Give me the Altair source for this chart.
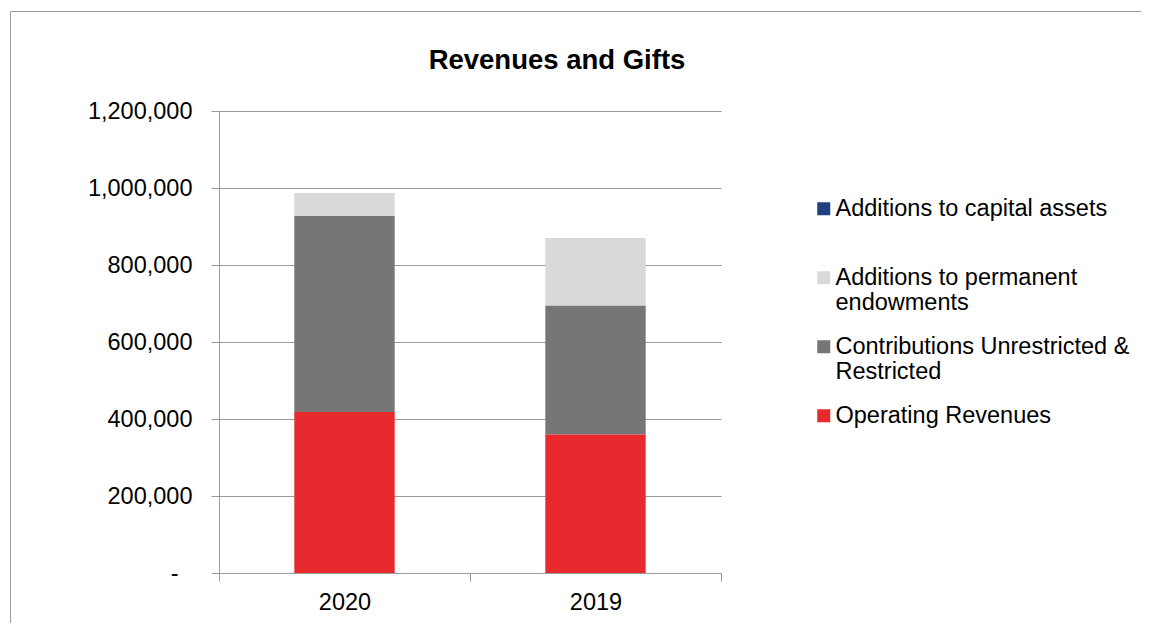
import altair as alt
import pandas as pd

years = ["2020", "2019"]
series = [
    "Additions to capital assets",
    "Additions to permanent endowments",
    "Contributions Unrestricted & Restricted",
    "Operating Revenues",
]
colors = ["#1F3F7F", "#D9D9D9", "#767676", "#E8292E"]
capital = [0, 0]
endowments = [60000, 176000]
contributions = [509000, 334000]
operating = [418000, 360000]
y_ticks = [0, 200000, 400000, 600000, 800000, 1000000, 1200000]

values_by_series = {
    series[0]: capital,
    series[1]: endowments,
    series[2]: contributions,
    series[3]: operating,
}
stack_rank = {series[3]: 0, series[2]: 1, series[1]: 2, series[0]: 3}

rows = []
for s, vals in values_by_series.items():
    for y, v in zip(years, vals):
        rows.append({"Year": y, "Series": s, "Value": v, "rank": stack_rank[s]})
df = pd.DataFrame(rows)

FONT = "Liberation Sans"

legend_expr = (
    "datum.label == 'Additions to permanent endowments' ? ['Additions to permanent', 'endowments'] : "
    "datum.label == 'Contributions Unrestricted & Restricted' ? ['Contributions Unrestricted &', 'Restricted'] : "
    "[datum.label, '\u2007']"
)

bars = (
    alt.Chart(df)
    .mark_bar(width=alt.RelativeBandSize(0.4))
    .encode(
        x=alt.X(
            "Year:N",
            sort=years,
            scale=alt.Scale(paddingInner=0, paddingOuter=0),
            axis=alt.Axis(
                title=None,
                labelAngle=0,
                tickBand="extent",
                grid=False,
                labelPadding=9,
            ),
        ),
        y=alt.Y(
            "Value:Q",
            stack="zero",
            scale=alt.Scale(domain=[0, 1200000], nice=False),
            axis=alt.Axis(
                title=None,
                values=y_ticks,
                grid=True,
                labelPadding={"condition": {"test": "datum.value == 0", "value": 33}, "value": 19},
                labelExpr="datum.value == 0 ? '-' : format(datum.value, ',')",
            ),
        ),
        color=alt.Color(
            "Series:N",
            scale=alt.Scale(domain=series, range=colors),
            legend=alt.Legend(
                title=None,
                orient="none",
                legendX=593,
                legendY=86,
                symbolType="square",
                symbolSize=169,
                symbolStrokeWidth=0,
                labelFont=FONT,
                labelFontSize=23.5,
                labelColor="#000000",
                labelLimit=500,
                labelOffset=0,
                labelExpr=legend_expr,
                rowPadding=19,
                padding=0,
            ),
        ),
        order=alt.Order("rank:Q", sort="ascending"),
    )
)

# chart-area frame (decorative border, as in the reference)
frame = (
    alt.Chart(pd.DataFrame({"f": [0]}))
    .mark_rect(fill=None, stroke="#9a9a9a", strokeWidth=1)
    .encode(
        x=alt.value(-208.5),
        x2=alt.value(1300),
        y=alt.value(-99.5),
        y2=alt.value(800),
    )
)

chart = (
    alt.layer(frame, bars)
    .properties(
        width=502,
        height=462,
        padding={"left": 211, "top": 103, "right": 420, "bottom": 50},
        autosize=alt.AutoSizeParams(type="none"),
        title=alt.TitleParams(
            "Revenues and Gifts",
            font=FONT,
            fontSize=27.5,
            fontWeight="bold",
            color="#000000",
            anchor="middle",
            dx=87,
            offset=-63,
        ),
    )
    .configure_axis(
        domainColor="#999999",
        tickColor="#999999",
        gridColor="#999999",
        tickSize=8,
        labelFont=FONT,
        labelFontSize=23.5,
        labelColor="#000000",
    )
    .configure_view(stroke=None)
)

chart.save("out.html", embed_options={"renderer": "svg", "actions": False})
